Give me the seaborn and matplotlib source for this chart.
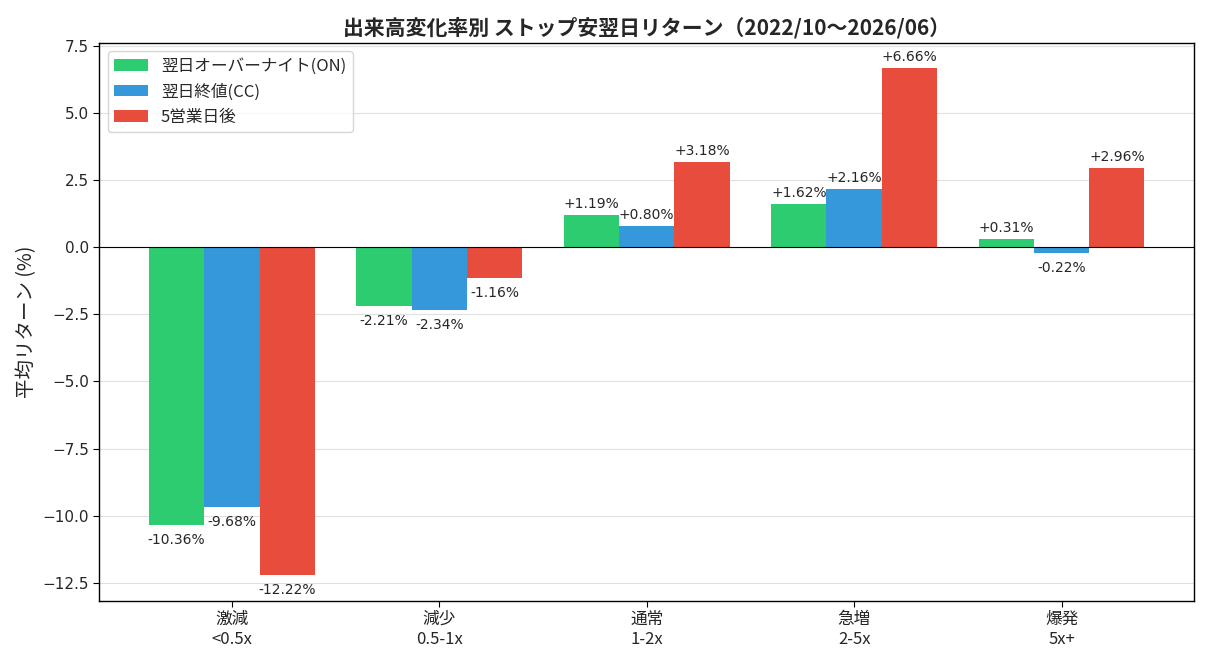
import pandas as pd
import seaborn as sns
import matplotlib.pyplot as plt

# data
categories = ['激減\n<0.5x', '減少\n0.5-1x', '通常\n1-2x', '急増\n2-5x', '爆発\n5x+']
series = ['翌日オーバーナイト(ON)', '翌日終値(CC)', '5営業日後']
ret_on = [-10.36, -2.21, 1.19, 1.62, 0.31]
ret_cc = [-9.68, -2.34, 0.80, 2.16, -0.22]
ret_5d = [-12.22, -1.16, 3.18, 6.66, 2.96]
colors = ['#2ecc71', '#3498db', '#e74c3c']

sns.set_style('white')
plt.rcParams['font.family'] = ['DejaVu Sans', 'Noto Sans CJK JP']
jp = ['Noto Sans CJK JP', 'DejaVu Sans']

df = pd.DataFrame({
    'cat': categories * 3,
    'series': [series[0]] * 5 + [series[1]] * 5 + [series[2]] * 5,
    'ret': ret_on + ret_cc + ret_5d,
})

fig, ax = plt.subplots(figsize=(12.1, 6.6), dpi=100)
sns.barplot(data=df, x='cat', y='ret', hue='series', palette=colors,
            width=0.8, errorbar=None, saturation=1, linewidth=0,
            ax=ax, zorder=3)

# value labels
for cont in ax.containers:
    for bar in cont:
        v = bar.get_height()
        xc = bar.get_x() + bar.get_width() / 2
        if v >= 0:
            ax.text(xc, v + 0.15, f'+{v:.2f}%', ha='center', va='bottom', fontsize=10)
        else:
            ax.text(xc, v - 0.3, f'{v:.2f}%', ha='center', va='top', fontsize=10)

ax.axhline(0, color='black', linewidth=0.8, zorder=4)
ax.grid(axis='y', color='#e0e0e0', linewidth=0.8, zorder=0)
ax.set_axisbelow(True)
for s in ax.spines.values():
    s.set_color('black')
    s.set_linewidth(1)

ax.set_xlim(-0.64, 4.64)
ax.set_ylim(-13.164, 7.604)
ax.tick_params(axis='both', length=4, color='black', labelsize=11, left=True, bottom=True)
ax.set_xticks(range(len(categories)))
ax.set_xticklabels(categories, family=jp, fontsize=12)
ax.set_xlabel('')
ax.set_ylabel('平均リターン (%)', family=jp, fontsize=14)
ax.set_title('出来高変化率別 ストップ安翌日リターン（2022/10〜2026/06）',
             family=jp, fontsize=15, fontweight='bold')

leg = ax.legend(loc='upper left', prop={'family': jp, 'size': 12},
                handlelength=2.0, frameon=True)
leg.set_title(None)

plt.subplots_adjust(left=0.082, right=0.987, top=0.935, bottom=0.09)
plt.savefig('out.png', dpi=100)
